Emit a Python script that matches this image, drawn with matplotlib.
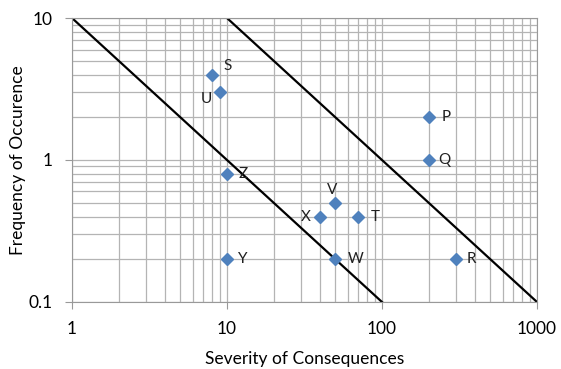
import numpy as np
import matplotlib
matplotlib.use("Agg")
import matplotlib.pyplot as plt

plt.rcParams['font.family'] = ['Lato', 'DejaVu Sans']

# data
names = ["S", "U", "Z", "Y", "V", "X", "T", "W", "P", "Q", "R"]
severity = [8, 9, 10, 10, 50, 40, 70, 50, 200, 200, 300]
frequency = [4, 3, 0.8, 0.2, 0.5, 0.4, 0.4, 0.2, 2, 1, 0.2]
# label offsets in points (dx, dy)
offsets = [(8, 6), (-6, -5), (8, 0), (8, 0), (-2, 9), (-7, 0), (9, 0), (9, 0), (9, 0), (7, 0), (8, 0)]
aligns = ["left", "right", "left", "left", "center", "right", "left", "left", "left", "left", "left"]

# boundary lines
line1_x = [1, 100]
line1_y = [10, 0.1]
line2_x = [10, 1000]
line2_y = [10, 0.1]


def main():
    fig = plt.figure(figsize=(5.61, 3.69), dpi=100)
    ax = fig.add_axes([0.1283, 0.1816, 0.8289, 0.7696])
    ax.set_xscale("log")
    ax.set_yscale("log")
    ax.set_xlim(1, 1000)
    ax.set_ylim(0.1, 10)

    ax.grid(True, which="both", color="#b4b4b4", lw=0.9)
    ax.set_axisbelow(True)
    for s in ax.spines.values():
        s.set_color("#999999")

    ax.plot(line1_x, line1_y, color="black", lw=1.6)
    ax.plot(line2_x, line2_y, color="black", lw=1.6)
    ax.plot(severity, frequency, "D", color="#4F81BD", ms=6, ls="none")

    for n, x, y, off, ha in zip(names, severity, frequency, offsets, aligns):
        ax.annotate(n, (x, y), xytext=off, textcoords="offset points",
                    ha=ha, va="center", fontsize=11, color="#202020")

    ax.set_xticks([1, 10, 100, 1000])
    ax.set_xticklabels(["1", "10", "100", "1000"])
    ax.set_yticks([0.1, 1, 10])
    ax.set_yticklabels(["0.1", "1", "10"])
    ax.tick_params(which="minor", length=0)
    ax.tick_params(which="major", length=5, color="#999999", labelsize=12.5)
    ax.tick_params(axis="x", pad=9)
    ax.tick_params(axis="y", pad=9)

    ax.set_xlabel("Severity of Consequences", fontsize=12.5, labelpad=10)
    ax.set_ylabel("Frequency of Occurence", fontsize=12.5, labelpad=2)

    fig.savefig("out.png", dpi=100)


if __name__ == '__main__':
    main()
